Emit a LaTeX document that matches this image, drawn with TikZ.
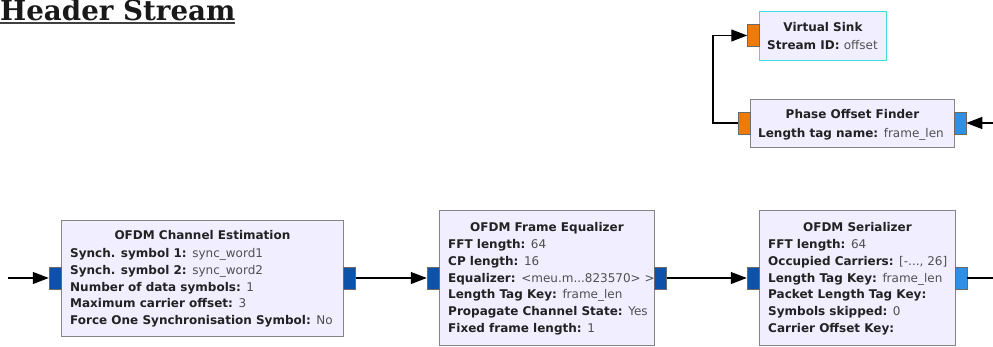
\documentclass[tikz,border=0pt]{standalone}
\usepackage{fontspec}
\setmainfont{DejaVu Sans}
\newfontfamily\titlefont{DejaVu Serif}
\usetikzlibrary{arrows.meta,calc}
\definecolor{blkfill}{HTML}{F1EEFF}
\definecolor{blkborder}{HTML}{858585}
\definecolor{sinkborder}{HTML}{3ADDE0}
\definecolor{portdark}{HTML}{0D52AA}
\definecolor{portlight}{HTML}{2E8FE6}
\definecolor{portorange}{HTML}{F07A06}
\definecolor{keycol}{HTML}{222222}
\definecolor{valcol}{HTML}{505050}
\tikzset{
  blk/.style={draw=blkborder, fill=blkfill, line width=0.9pt, anchor=north west, inner sep=0pt},
  port/.style={draw=blkborder!80!black, line width=0.5pt, inner sep=0pt, minimum width=12pt, minimum height=22pt},
  ttl/.style={font=\fontsize{12}{14}\selectfont\bfseries, text=keycol, anchor=base, inner sep=0pt},
  prm/.style={font=\fontsize{12}{14}\selectfont, text=keycol, anchor=base west, inner sep=0pt},
  conn/.style={line width=1.1pt, draw=black, -{Triangle[length=16pt,width=12pt]}},
  plain/.style={line width=1.1pt, draw=black},
}
\newcommand{\kv}[2]{\textbf{#1}\textcolor{valcol}{#2}}
\begin{document}
\begin{tikzpicture}[x=1pt,y=-1pt]
\useasboundingbox (0,0) rectangle (993,346);
% title
\node[font=\titlefont\bfseries\fontsize{27.7}{30}\selectfont, anchor=base west, inner sep=0pt, text=black!90] (title) at (0,20.5) {Header Stream};
\draw[line width=2pt, black!75] (title.base west) ++(0,2.5) -- ++(235,0);

% Virtual Sink
\node[blk, draw=sinkborder, minimum width=127pt, minimum height=49pt] (vs) at (759,11) {};
\node[port, fill=portorange] (vsin) at (753.5,35.5) {};
\node[ttl] (vst) at ($(vs.north)+(0,20)$) {Virtual Sink};
\node[prm] (vsp) at ($(vs.north west)+(8,38)$) {\kv{Stream ID: }{offset}};

% Phase Offset Finder
\node[blk, minimum width=204pt, minimum height=48pt] (pof) at (750,99) {};
\node[port, fill=portorange] (pofin) at (744,123) {};
\node[port, fill=portlight] (pofout) at (960,123) {};
\node[ttl] (poft) at ($(pof.north)+(0,19)$) {Phase Offset Finder};
\node[prm] (pofp) at ($(pof.north west)+(8,38)$) {\kv{Length tag name: }{frame\_len}};

% OFDM Channel Estimation
\node[blk, minimum width=282pt, minimum height=116pt] (ce) at (61,220) {};
\node[port, fill=portdark] (cein) at (55,278) {};
\node[port, fill=portdark] (ceout) at (349.5,278) {};
\node[ttl] (cet) at ($(ce.north)+(0,19)$) {OFDM Channel Estimation};
\foreach \t [count=\i from 0] in {{\kv{Synch. symbol 1: }{sync\_word1}},{\kv{Synch. symbol 2: }{sync\_word2}},{\kv{Number of data symbols: }{1}},{\kv{Maximum carrier offset: }{3}},{\kv{Force One Synchronisation Symbol: }{No}}}
  \node[prm] (cep\i) at ($(ce.north west)+(9,37.5+16.8*\i)$) {\t};

% OFDM Frame Equalizer
\node[blk, minimum width=215pt, minimum height=135pt] (fe) at (439,210) {};
\node[port, fill=portdark] (fein) at (433,278) {};
\node[port, fill=portdark] (feout) at (660.5,278) {};
\node[ttl] (fet) at ($(fe.north)+(0,21.5)$) {OFDM Frame Equalizer};
\foreach \t [count=\i from 0] in {{\kv{FFT length: }{64}},{\kv{CP length: }{16}},{\kv{Equalizer: }{<meu.m...823570> >}},{\kv{Length Tag Key: }{frame\_len}},{\kv{Propagate Channel State: }{Yes}},{\kv{Fixed frame length: }{1}}}
  \node[prm] (fep\i) at ($(fe.north west)+(9,38.5+16.8*\i)$) {\t};

% OFDM Serializer
\node[blk, minimum width=196pt, minimum height=135pt] (ser) at (759,210) {};
\node[port, fill=portdark] (serin) at (753,278) {};
\node[port, fill=portlight] (serout) at (961,278) {};
\node[ttl] (sert) at ($(ser.north)+(0,21)$) {OFDM Serializer};
\foreach \t [count=\i from 0] in {{\kv{FFT length: }{64}},{\kv{Occupied Carriers: }{[-..., 26]}},{\kv{Length Tag Key: }{frame\_len}},{\kv{Packet Length Tag Key: }{}},{\kv{Symbols skipped: }{0}},{\kv{Carrier Offset Key: }{}}}
  \node[prm] (serp\i) at ($(ser.north west)+(9,38.5+16.8*\i)$) {\t};

% connectors
\coordinate (cesrc) at (8,278);
\coordinate (serdst) at (993,278);
\coordinate (pofsrc) at (993,123);
\coordinate (bend) at (713,123);
\draw[conn] (cesrc) -- (cein.west);
\draw[conn] (ceout.east) -- (fein.west);
\draw[conn] (feout.east) -- (serin.west);
\draw[plain] (serout.east) -- (serdst);
\draw[conn] (pofsrc) -- (pofout.east);
\draw[conn] (pofin.west) -- (bend) |- (vsin.west);
\end{tikzpicture}
\end{document}
